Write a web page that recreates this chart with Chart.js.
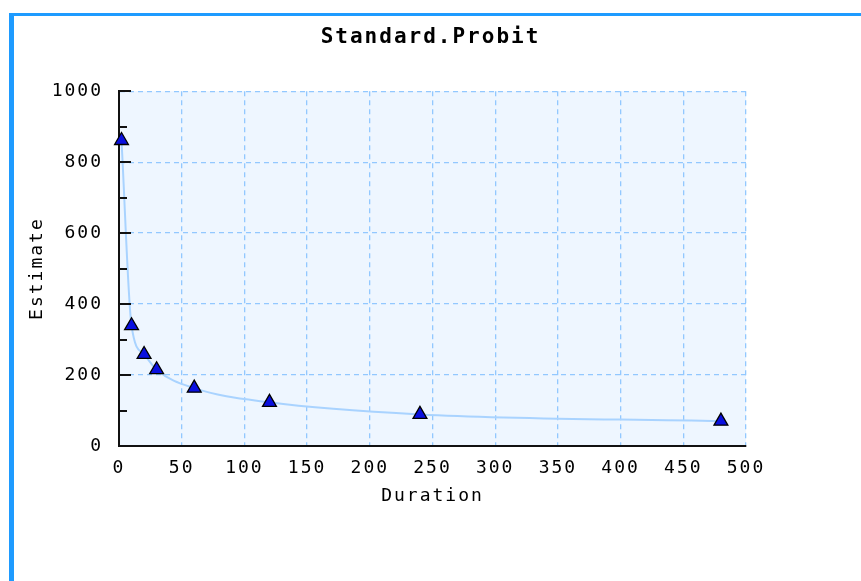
<!DOCTYPE html>
<html>
<head>
<meta charset="utf-8">
<script src="https://cdn.jsdelivr.net/npm/chart.js@4"></script>
<style>
    html, body { margin: 0; padding: 0; background: #fff; overflow: hidden; }
    #frame { position: absolute; left: 9px; top: 13px; width: 900px; height: 620px;
             border-top: 3px solid #1e9bff; border-left: 5px solid #1e9bff; }
    #wrap { position: absolute; left: 0; top: 0; width: 861px; height: 581px; }
</style>
</head>
<body>
<div id="frame"></div>
<div id="wrap"><canvas id="chart" width="861" height="581"></canvas></div>
<script>
// DATOS
const durations = [2, 10, 20, 30, 60, 120, 240, 480];
const estimates = [861, 339, 258, 215, 163, 123, 89, 70];
const xTicks = [0, 50, 100, 150, 200, 250, 300, 350, 400, 450, 500];
const yTicks = [0, 200, 400, 600, 800, 1000];

const FONT = "'DejaVu Sans Mono', monospace";
const GRID = "#92c8ff";
const el = (id) => document.getElementById(id);

// espaciado de letras (la fuente original es ancha)
const spacing = {
    id: "spacing",
    beforeLayout(chart) { chart.ctx.letterSpacing = "2px"; },
    beforeDraw(chart) { chart.ctx.letterSpacing = "2px"; }
};

// fondo del area de trazado
const plotBg = {
    id: "plotBg",
    beforeDraw(chart) {
        const { ctx, chartArea: a } = chart;
        ctx.save();
        ctx.fillStyle = "#eef6ff";
        ctx.fillRect(a.left, a.top, a.right - a.left, a.bottom - a.top);
        ctx.restore();
    }
};

// marcas del eje Y hacia dentro
const innerTicks = {
    id: "innerTicks",
    afterDraw(chart) {
        const { ctx, chartArea: a } = chart;
        const y = chart.scales.y;
        ctx.save();
        ctx.strokeStyle = "#111";
        ctx.lineWidth = 2;
        y.ticks.forEach(t => {
            const py = Math.round(y.getPixelForValue(t.value));
            const len = yTicks.includes(t.value) ? 12 : 8;
            ctx.beginPath();
            ctx.moveTo(a.left, py);
            ctx.lineTo(a.left + len, py);
            ctx.stroke();
        });
        ctx.restore();
    }
};

const points = durations.map((d, i) => ({ x: d, y: estimates[i] }));

new Chart(el("chart").getContext("2d"), {
    type: "line",
    data: {
        datasets: [{
            label: "Estimate",
            data: points,
            borderColor: "#a9d3ff",
            borderWidth: 2,
            cubicInterpolationMode: "monotone",
            pointStyle: "triangle",
            pointRadius: 8,
            pointBackgroundColor: "#0a10e0",
            pointBorderColor: "#000",
            pointBorderWidth: 1.3,
            clip: false
        }]
    },
    options: {
        responsive: false,
        animation: false,
        layout: { padding: 0 },
        plugins: {
            legend: { display: false },
            tooltip: { enabled: false },
            title: {
                display: true,
                text: "Standard.Probit",
                color: "#000",
                font: { family: FONT, size: 21, weight: "bold" },
                padding: { top: 25, bottom: 41 }
            }
        },
        scales: {
            x: {
                type: "linear",
                min: 0, max: 500,
                afterFit: (s) => { s.height = 135; },
                afterBuildTicks: (s) => { s.ticks = xTicks.map(v => ({ value: v })); },
                ticks: { color: "#000", font: { family: FONT, size: 18 }, padding: 12, maxRotation: 0 },
                grid: { color: GRID, lineWidth: 1.3, drawTicks: false },
                border: { color: "#111", width: 2, dash: [5, 4] },
                title: {
                    display: true, text: "Duration", color: "#000",
                    font: { family: FONT, size: 18 },
                    padding: { top: 0, bottom: 74 }
                }
            },
            y: {
                type: "linear",
                min: 0, max: 1000,
                afterFit: (s) => { s.width = 119; },
                ticks: {
                    stepSize: 100, color: "#000", font: { family: FONT, size: 18 }, padding: 16,
                    autoSkip: false,
                    callback: (v) => (yTicks.includes(v) ? v : "")
                },
                grid: {
                    color: (c) => (c.tick && yTicks.includes(c.tick.value) ? GRID : "rgba(0,0,0,0)"),
                    lineWidth: 1.3, drawTicks: false
                },
                border: { color: "#111", width: 2, dash: [5, 4] },
                title: {
                    display: true, text: "Estimate", color: "#000",
                    font: { family: FONT, size: 18 },
                    padding: { top: 27, bottom: 0 }
                }
            },
            // eje vacio a la derecha para dejar el margen
            yRight: {
                type: "linear",
                position: "right",
                min: 0, max: 1000,
                afterFit: (s) => { s.width = 115; },
                ticks: { display: false },
                grid: { drawOnChartArea: false, drawTicks: false },
                border: { display: false }
            }
        }
    },
    plugins: [spacing, plotBg, innerTicks]
});
</script>
</body>
</html>
